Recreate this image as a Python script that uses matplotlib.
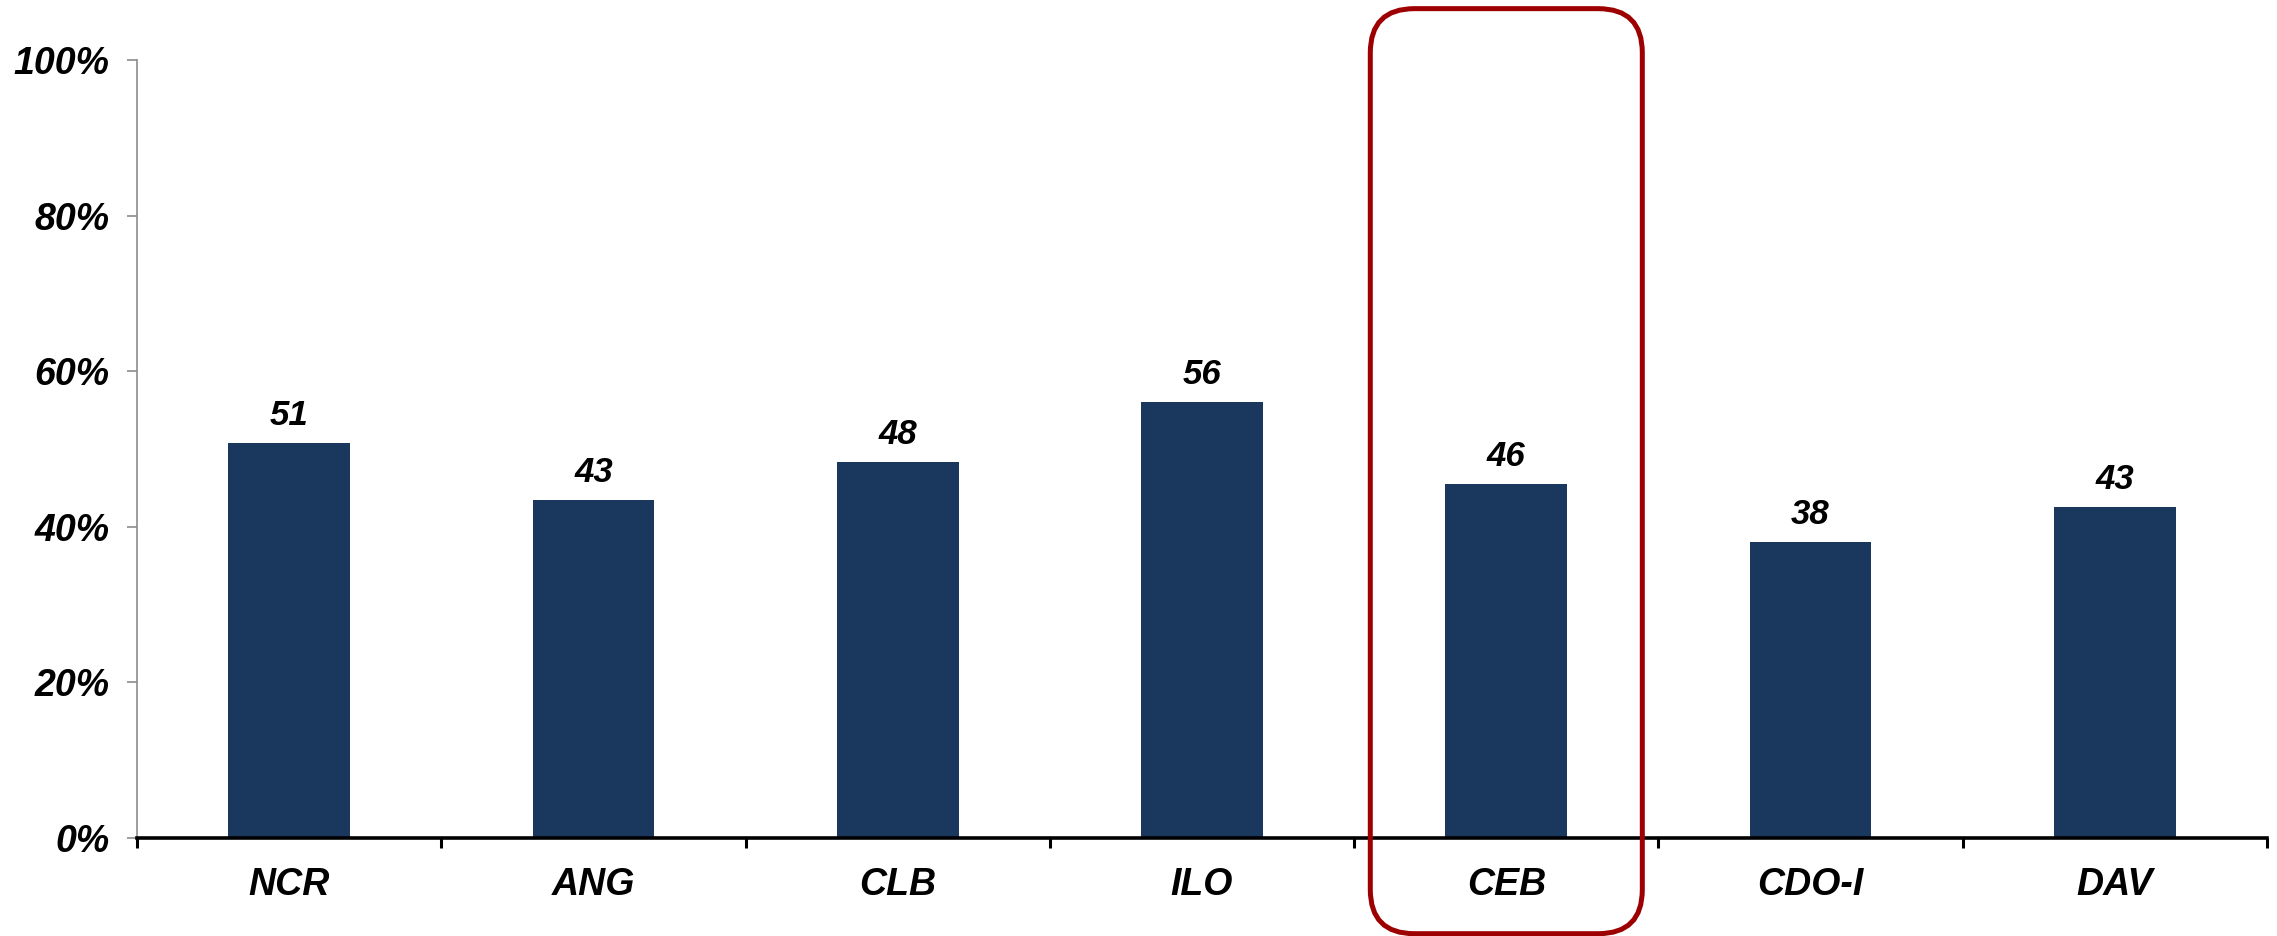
import numpy as np
import matplotlib
matplotlib.use("Agg")
import matplotlib.pyplot as plt
from matplotlib.patches import FancyBboxPatch
from matplotlib.ticker import FixedLocator

# Data
regions = ["NCR", "ANG", "CLB", "ILO", "CEB", "CDO-I", "DAV"]
shares = [50.8, 43.4, 48.3, 56.0, 45.5, 38.0, 42.5]
labels = ["51", "43", "48", "56", "46", "38", "43"]
highlight = "CEB"

plt.rcParams["font.family"] = ["Liberation Sans", "DejaVu Sans"]

fig = plt.figure(figsize=(22.77, 9.36), dpi=100)
ax = fig.add_axes([0.0602, 0.1047, 0.9354, 0.8312])

x = np.arange(len(regions))
ax.bar(x, shares, width=0.4, color="#1a375e", zorder=2)

for xi, v, lab in zip(x, shares, labels):
    ax.annotate(lab, (xi, v), xytext=(0, 8), textcoords="offset points",
                ha="center", va="bottom", fontsize=25,
                fontweight="bold", fontstyle="italic")

ax.set_xlim(-0.5, len(regions) - 0.5)
ax.set_ylim(0, 100)

# y axis
ax.set_yticks(np.arange(0, 101, 20))
ax.set_yticklabels([f"{v}%" for v in range(0, 101, 20)],
                   fontsize=27, fontweight="bold", fontstyle="italic")
ax.tick_params(axis="y", length=7, width=1.2, color="#8c8c8c", pad=13)
ax.spines["left"].set_color("#8c8c8c")
ax.spines["left"].set_linewidth(1.2)

# x axis
ax.set_xticks(x)
ax.set_xticklabels(regions, fontsize=27, fontweight="bold", fontstyle="italic")
ax.xaxis.set_minor_locator(FixedLocator(np.arange(-0.5, len(regions), 1.0)))
ax.tick_params(axis="x", which="major", length=0, pad=21)
ax.tick_params(axis="x", which="minor", length=7, width=2.2, color="black",
               direction="out")
ax.spines["bottom"].set_linewidth(2.6)
ax.spines["bottom"].set_color("black")
ax.spines["top"].set_visible(False)
ax.spines["right"].set_visible(False)

# rounded highlight box around CEB
i = regions.index(highlight)
fig.canvas.draw()
px_per_x = ax.transData.transform((1, 0))[0] - ax.transData.transform((0, 0))[0]
px_per_y = ax.transData.transform((0, 1))[1] - ax.transData.transform((0, 0))[1]
half_w = 0.447
y_top, y_bot = 106.6, -12.3
box = FancyBboxPatch((i - half_w, y_bot), 2 * half_w, y_top - y_bot,
                     boxstyle="round,pad=0,rounding_size=0.145",
                     mutation_aspect=px_per_x / px_per_y,
                     fill=False, edgecolor="#9c0000", linewidth=3.6,
                     clip_on=False, zorder=3)
ax.add_patch(box)

fig.savefig("out.png", dpi=100)
